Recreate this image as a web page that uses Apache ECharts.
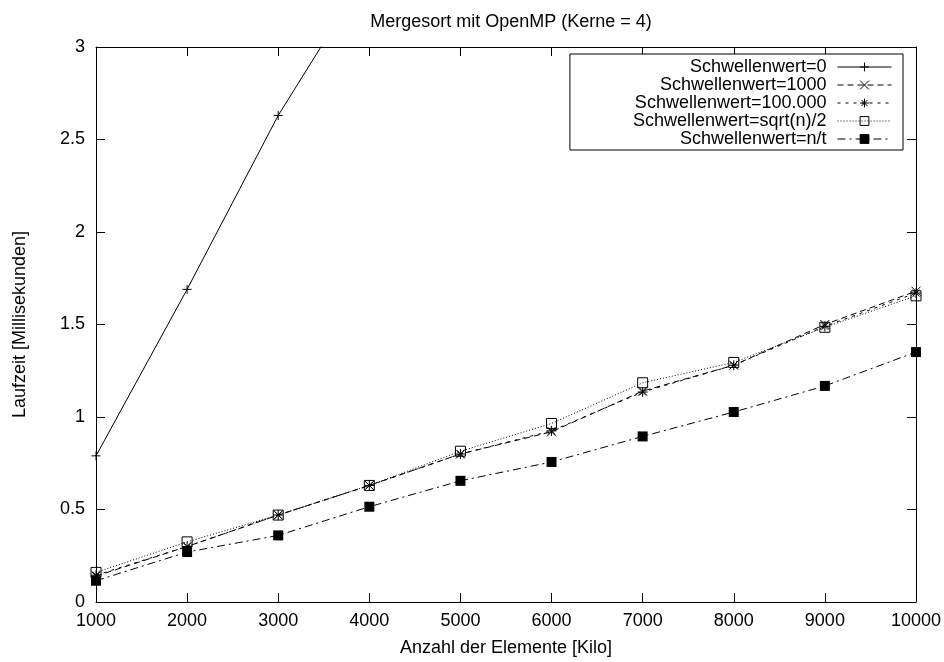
<!DOCTYPE html>
<html>
<head>
<meta charset="utf-8">
<script src="https://cdn.jsdelivr.net/npm/echarts@6/dist/echarts.min.js"></script>
<style>
html,body{margin:0;padding:0;background:#fff;}
#chart{width:944px;height:662px;}
</style>
</head>
<body>
<div id="chart"></div>
<script>
// Data
var xValues = [1000, 2000, 3000, 4000, 5000, 6000, 7000, 8000, 9000, 10000];
var seriesNames = ['Schwellenwert=0', 'Schwellenwert=1000', 'Schwellenwert=100.000', 'Schwellenwert=sqrt(n)/2', 'Schwellenwert=n/t'];
var s0 = [0.79, 1.69, 2.63, 3.42, null, null, null, null, null, null];
var s1000 = [0.14, 0.30, 0.47, 0.63, 0.80, 0.92, 1.14, 1.28, 1.50, 1.68];
var s100000 = [0.145, 0.30, 0.47, 0.63, 0.80, 0.925, 1.135, 1.28, 1.49, 1.67];
var sSqrt = [0.16, 0.325, 0.47, 0.63, 0.815, 0.965, 1.185, 1.295, 1.485, 1.655];
var sNT = [0.115, 0.27, 0.36, 0.515, 0.655, 0.757, 0.895, 1.027, 1.168, 1.351];
var yTickLabels = ['0', '0.5', '1', '1.5', '2', '2.5', '3'];

var FONT = "'Liberation Sans', Arial, Helvetica, sans-serif";

function pairs(vals) {
  var out = [];
  for (var i = 0; i < xValues.length; i++) {
    if (vals[i] !== null) out.push([xValues[i], vals[i]]);
  }
  return out;
}

var chart = echarts.init(document.getElementById('chart'), null, {renderer: 'canvas'});

var axisCommon = {
  type: 'value',
  axisLine: {show: true, onZero: false, lineStyle: {color: '#000', width: 1}},
  axisTick: {show: true, inside: true, length: 9, lineStyle: {color: '#000', width: 1}},
  splitLine: {show: false}
};

function lineSeries(name, vals, lineType, symbol, symbolSize, itemStyle) {
  return {
    name: name,
    type: 'line',
    data: pairs(vals),
    xAxisIndex: 0,
    yAxisIndex: 0,
    clip: true,
    symbol: symbol,
    symbolSize: symbolSize,
    showAllSymbol: true,
    lineStyle: {color: '#000', width: 1, type: lineType},
    itemStyle: itemStyle,
    emphasis: {disabled: true},
    animation: false
  };
}

var strokeOnly = {color: 'rgba(0,0,0,0)', borderColor: '#000', borderWidth: 1};

var option = {
  backgroundColor: '#fff',
  animation: false,
  title: {
    text: 'Mergesort mit OpenMP (Kerne = 4)',
    left: 506,
    textAlign: 'center',
    top: 8,
    textStyle: {fontFamily: FONT, fontSize: 18, fontWeight: 'normal', color: '#000'}
  },
  grid: {left: 96, right: 27, top: 47, bottom: 60, containLabel: false},
  legend: {
    orient: 'vertical',
    align: 'right',
    right: 41,
    top: 54,
    padding: [4, 11, 2, 63],
    itemGap: 0,
    itemWidth: 54,
    itemHeight: 11,
    borderColor: '#000',
    borderWidth: 1,
    backgroundColor: '#fff',
    data: seriesNames,
    lineStyle: {color: '#000', width: 1},
    itemStyle: {borderWidth: 1},
    textStyle: {fontFamily: FONT, fontSize: 18, color: '#000', padding: [0, 6, 0, 0]}
  },
  xAxis: [
    Object.assign({}, axisCommon, {
      position: 'bottom',
      min: 1000, max: 10000, interval: 1000,
      axisLabel: {
        color: '#000', fontFamily: FONT, fontSize: 18, margin: 10, showMinLabel: true, showMaxLabel: true,
        formatter: function (v) { return String(v); }
      },
      name: 'Anzahl der Elemente [Kilo]',
      nameLocation: 'middle',
      nameGap: 37,
      nameTextStyle: {fontFamily: FONT, fontSize: 18, color: '#000'}
    }),
    Object.assign({}, axisCommon, {
      position: 'top',
      min: 1000, max: 10000, interval: 1000,
      axisLabel: {show: false}
    })
  ],
  yAxis: [
    Object.assign({}, axisCommon, {
      position: 'left',
      min: 0, max: 3, interval: 0.5,
      axisLabel: {
        color: '#000', fontFamily: FONT, fontSize: 18, margin: 11,
        formatter: function (v) {
          var idx = Math.round(v / 0.5);
          return yTickLabels[idx] !== undefined ? yTickLabels[idx] : String(v);
        }
      },
      name: 'Laufzeit [Millisekunden]',
      nameLocation: 'middle',
      nameGap: 67,
      nameRotate: 90,
      nameTextStyle: {fontFamily: FONT, fontSize: 18, color: '#000'}
    }),
    Object.assign({}, axisCommon, {
      position: 'right',
      min: 0, max: 3, interval: 0.5,
      axisLabel: {show: false}
    })
  ],
  series: [
    lineSeries(seriesNames[0], s0, 'solid', 'path://M5,0V10M0,5H10', 9, strokeOnly),
    lineSeries(seriesNames[1], s1000, [6, 4], 'path://M0,0L10,10M0,10L10,0', 9, strokeOnly),
    lineSeries(seriesNames[2], s100000, [3, 5], 'path://M5,0V10M0,5H10M1.5,1.5L8.5,8.5M1.5,8.5L8.5,1.5', 10, strokeOnly),
    lineSeries(seriesNames[3], sSqrt, [1, 2], 'path://M0,0H10V10H0Z', 10, strokeOnly),
    lineSeries(seriesNames[4], sNT, [8, 4, 2, 4], 'rect', 10, {color: '#000', borderColor: '#000', borderWidth: 0})
  ]
};

chart.setOption(option);
</script>
</body>
</html>
